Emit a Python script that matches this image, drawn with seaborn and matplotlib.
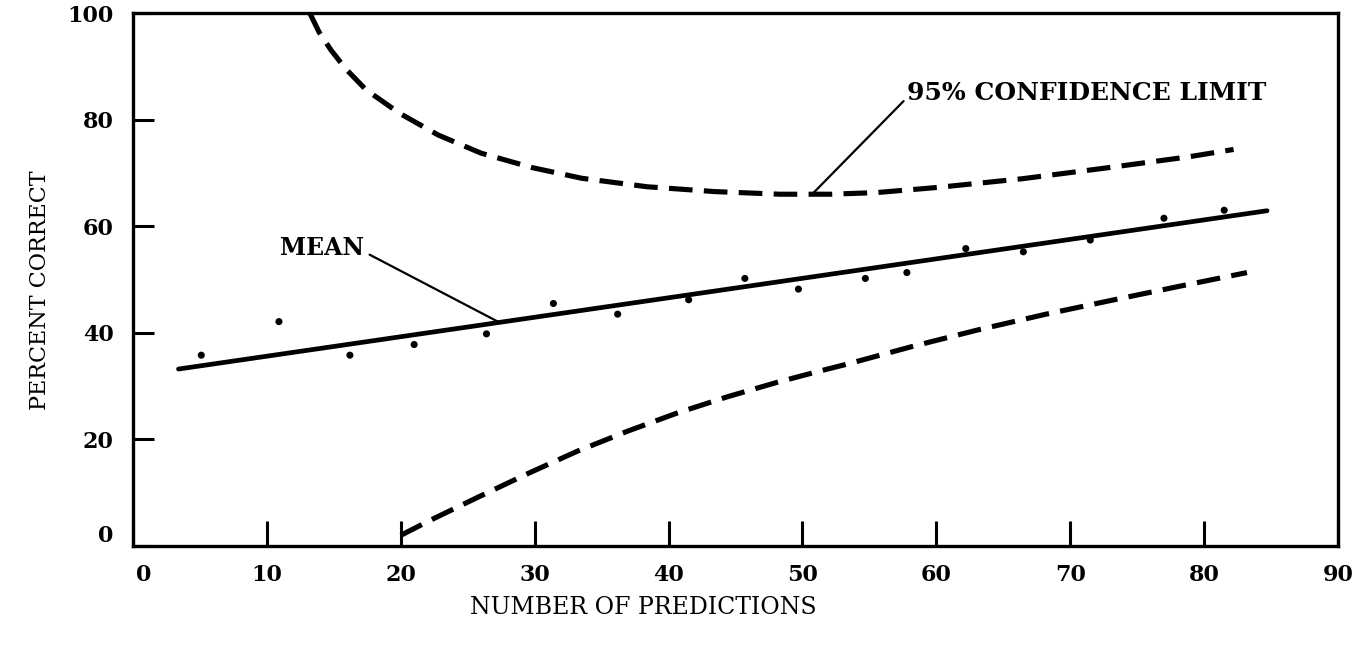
import matplotlib
matplotlib.use("Agg")
import matplotlib.pyplot as plt
import matplotlib.transforms as mtransforms
import seaborn as sns
import pandas as pd

# ---- data ----
points_x = [5.1, 10.9, 16.2, 21.0, 26.4, 31.4, 36.2, 41.5, 45.7, 49.7, 54.7, 57.8, 62.2, 66.5, 71.5, 77.0, 81.5]
points_y = [35.8, 42.1, 35.8, 37.8, 39.8, 45.5, 43.5, 46.2, 50.2, 48.2, 50.2, 51.3, 55.8, 55.2, 57.4, 61.5, 63.0]

mean_x = [3.4, 84.7]
mean_y = [33.2, 62.9]

upper_x = [13.2, 13.9, 14.8, 15.9, 17.4, 19.9, 22.8, 26.0, 29.8, 33.5, 38.4, 43.4, 48.3, 52.1, 55.5, 60.2, 66.4, 72.6, 78.8, 82.2]
upper_y = [100.0, 96.4, 93.0, 89.5, 85.6, 81.2, 77.1, 73.7, 71.0, 69.0, 67.4, 66.5, 66.0, 66.0, 66.3, 67.3, 68.9, 70.9, 73.0, 74.4]

lower_x = [20.0, 22.1, 25.8, 29.5, 33.2, 37.0, 40.7, 44.4, 48.1, 51.1, 53.3, 58.3, 63.2, 68.2, 73.1, 78.1, 83.2]
lower_y = [2.0, 4.7, 9.2, 13.6, 17.8, 21.6, 25.0, 28.0, 30.7, 32.7, 34.1, 37.5, 40.6, 43.5, 46.1, 48.7, 51.3]

x_ticks = [0, 10, 20, 30, 40, 50, 60, 70, 80, 90]
y_ticks = [0, 20, 40, 60, 80, 100]

x_label = "NUMBER OF PREDICTIONS"
y_label = "PERCENT CORRECT"
mean_label = "MEAN"
ci_label = "95% CONFIDENCE LIMIT"

# ---- styling ----
sns.set_theme(style="white")
plt.rcParams["font.family"] = ["DejaVu Serif"]

fig = plt.figure(figsize=(13.62, 6.53), dpi=100)
ax = fig.add_axes([133 / 1362, 1 - 546 / 653, (1338 - 133) / 1362, (546 - 13) / 653])

pts = pd.DataFrame({"x": points_x, "y": points_y})
mean_df = pd.DataFrame({"x": mean_x, "y": mean_y})
up_df = pd.DataFrame({"x": upper_x, "y": upper_y})
lo_df = pd.DataFrame({"x": lower_x, "y": lower_y})

sns.lineplot(data=mean_df, x="x", y="y", ax=ax, color="black", lw=3.4,
             estimator=None, sort=False)
line_kw = dict(color="black", lw=3.7, estimator=None, sort=False)
sns.lineplot(data=up_df, x="x", y="y", ax=ax, **line_kw)
sns.lineplot(data=lo_df, x="x", y="y", ax=ax, **line_kw)
for ln in ax.lines[1:]:
    ln.set_dashes((4.6, 2.2))
    ln.set_dash_capstyle("butt")
    ln.set_solid_joinstyle("round")
sns.scatterplot(data=pts, x="x", y="y", ax=ax, color="black", s=26,
                edgecolor="none", zorder=5)

ax.set_xlim(0, 90)
ax.set_ylim(0, 100)
ax.set_xticks(x_ticks)
ax.set_xticklabels([str(v) for v in x_ticks])
ax.set_yticks(y_ticks)
ax.set_yticklabels([str(v) for v in y_ticks])

ax.tick_params(axis="x", direction="in", length=18, width=2.2, pad=13,
               labelsize=16, color="black", labelcolor="black", bottom=True)
ax.tick_params(axis="y", direction="in", length=15, width=2.2, pad=14,
               labelsize=16, color="black", labelcolor="black", left=True)
for lab in ax.get_xticklabels() + ax.get_yticklabels():
    lab.set_fontweight("bold")

for sp in ax.spines.values():
    sp.set_visible(True)
    sp.set_color("black")
    sp.set_linewidth(2.4)

ax.set_xlabel(x_label, fontsize=17, color="black")
ax.set_ylabel(y_label, fontsize=16, color="black")
ax.xaxis.set_label_coords((643 - 133) / 1205, (546 - 607) / 533)
ax.xaxis.label.set_va("center")
ax.yaxis.set_label_coords((40 - 133) / 1205, (546 - 290) / 533)
ax.yaxis.label.set_va("center")

ax.annotate(mean_label, xy=(27.4, 41.9), xytext=(14.1, 55.9),
            ha="center", va="center", fontsize=17, fontweight="bold",
            color="black",
            arrowprops=dict(arrowstyle="-", lw=1.6, color="black",
                            shrinkA=2, shrinkB=0, relpos=(1.0, 0.35)))
ax.annotate(ci_label, xy=(50.8, 66.2), xytext=(57.8, 85.0),
            ha="left", va="center", fontsize=18, fontweight="bold",
            color="black",
            arrowprops=dict(arrowstyle="-", lw=1.6, color="black",
                            shrinkA=0, shrinkB=0, relpos=(0.0, 0.3)))

# nudge the two "0" labels off the corner, as in the reference
fig.canvas.draw()
ylab0 = ax.get_yticklabels()[0]
ylab0.set_transform(ylab0.get_transform() +
                    mtransforms.ScaledTranslation(0, 13 / 100, fig.dpi_scale_trans))
xlab0 = ax.get_xticklabels()[0]
xlab0.set_transform(xlab0.get_transform() +
                    mtransforms.ScaledTranslation(11 / 100, 0, fig.dpi_scale_trans))

fig.savefig("out.png", dpi=100, facecolor="white")
